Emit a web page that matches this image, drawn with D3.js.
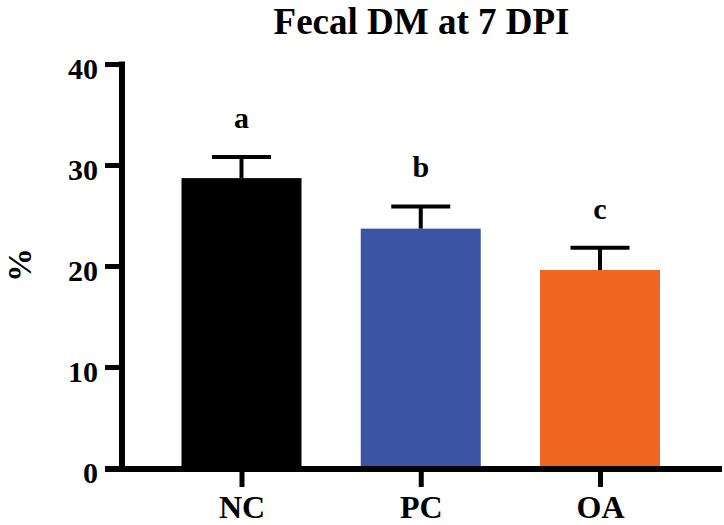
<!DOCTYPE html>
<html>
<head>
<meta charset="utf-8">
<script src="https://cdn.jsdelivr.net/npm/d3@7"></script>
<style>
  html, body { margin: 0; padding: 0; background: #fff; }
  svg { display: block; }
  text { font-family: "Liberation Serif", "Times New Roman", serif; font-weight: bold; fill: #000; }
</style>
</head>
<body>
<svg id="chart" width="724" height="525"></svg>
<script>
const categories = ["NC", "PC", "OA"];
const means = [28.7, 23.7, 19.6];
const errors = [2.1, 2.2, 2.2];
const letters = ["a", "b", "c"];
const colors = ["#000000", "#3B54A4", "#F16522"];
const yTicks = [0, 10, 20, 30, 40];
const title = "Fecal DM at 7 DPI";
const yLabel = "%";

const svg = d3.select("#chart");
const y = d3.scaleLinear().domain([0, 40]).range([468, 64]);
const x = d3.scalePoint().domain(categories).range([241.5, 600]);
const barW = 120;
const capW = 59;

// bars
svg.selectAll("rect.bar").data(categories).join("rect")
  .attr("class", "bar")
  .attr("x", d => x(d) - barW / 2)
  .attr("width", barW)
  .attr("y", (d, i) => y(means[i]))
  .attr("height", (d, i) => y(0) - y(means[i]))
  .attr("fill", (d, i) => colors[i]);

// error bars
const eb = svg.selectAll("g.err").data(categories).join("g").attr("class", "err");
eb.append("line")
  .attr("x1", d => x(d)).attr("x2", d => x(d))
  .attr("y1", (d, i) => y(means[i]))
  .attr("y2", (d, i) => y(means[i] + errors[i]))
  .attr("stroke", "#000").attr("stroke-width", 4);
eb.append("line")
  .attr("x1", d => x(d) - capW / 2).attr("x2", d => x(d) + capW / 2)
  .attr("y1", (d, i) => y(means[i] + errors[i]))
  .attr("y2", (d, i) => y(means[i] + errors[i]))
  .attr("stroke", "#000").attr("stroke-width", 4);

// significance letters
svg.selectAll("text.sig").data(categories).join("text")
  .attr("class", "sig")
  .attr("x", d => x(d))
  .attr("y", (d, i) => y(means[i] + errors[i]) - 29)
  .attr("text-anchor", "middle")
  .style("font-size", "30px")
  .text((d, i) => letters[i]);

// y axis
const yAxis = svg.append("g").attr("transform", "translate(122,0)")
  .call(d3.axisLeft(y).tickValues(yTicks).tickSize(17).tickSizeOuter(0).tickPadding(7));
yAxis.select(".domain").attr("stroke", "#000").attr("stroke-width", 6)
  .attr("d", `M0,${y(40) - 2.5}V${y(0)}`);
yAxis.selectAll(".tick line").attr("stroke", "#000").attr("stroke-width", 5);
yAxis.selectAll(".tick text")
  .attr("dy", null).attr("y", 14)
  .style("font-size", "30px")
  .style("font-family", "'Liberation Serif', 'Times New Roman', serif")
  .style("font-weight", "bold");

// x axis
const xAxis = svg.append("g").attr("transform", `translate(0,${y(0) + 1})`)
  .call(d3.axisBottom(x).tickSize(18).tickSizeOuter(0).tickPadding(8));
xAxis.select(".domain").attr("stroke", "#000").attr("stroke-width", 6)
  .attr("d", "M105,0H722");
xAxis.selectAll(".tick line").attr("stroke", "#000").attr("stroke-width", 5);
xAxis.selectAll(".tick text")
  .attr("dy", null).attr("y", 49)
  .style("font-size", "32px")
  .style("font-family", "'Liberation Serif', 'Times New Roman', serif")
  .style("font-weight", "bold");

// y label
svg.append("text")
  .attr("transform", "translate(31,265) rotate(-90)")
  .attr("text-anchor", "middle")
  .style("font-size", "34px")
  .text(yLabel);

// title
svg.append("text")
  .attr("x", 421.5).attr("y", 34)
  .attr("text-anchor", "middle")
  .style("font-size", "37px")
  .text(title);
</script>
</body>
</html>
